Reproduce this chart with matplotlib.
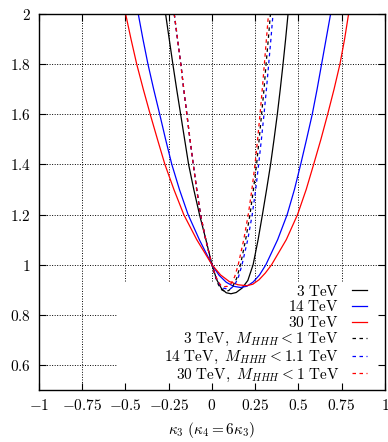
import matplotlib
matplotlib.use("Agg")
import matplotlib.pyplot as plt

plt.rcParams['mathtext.fontset'] = 'cm'
plt.rcParams['font.family'] = ['DejaVu Serif']

# ---- data ----
x_3 = [-0.268, -0.247, -0.226, -0.204, -0.181, -0.158, -0.135, -0.105, -0.072, -0.035, 0.0,
       0.0275, 0.055, 0.0825, 0.11, 0.14, 0.175, 0.2075, 0.238,
       0.267, 0.292, 0.316, 0.339, 0.359, 0.378, 0.395, 0.411, 0.426, 0.44]
y_3 = [2.0, 1.9, 1.8, 1.7, 1.6, 1.5, 1.4, 1.3, 1.2, 1.1, 1.0,
       0.94, 0.905, 0.888, 0.884, 0.889, 0.907, 0.937, 1.0,
       1.1, 1.2, 1.3, 1.4, 1.5, 1.6, 1.7, 1.8, 1.9, 2.0]

x_14 = [-0.426, -0.399, -0.37, -0.337, -0.302, -0.268, -0.232, -0.188, -0.138, -0.073, 0.0,
        0.041, 0.0825, 0.124, 0.165, 0.202, 0.2385, 0.275, 0.312,
        0.38, 0.435, 0.477, 0.513, 0.547, 0.58, 0.608, 0.634, 0.66, 0.686]
y_14 = [2.0, 1.9, 1.8, 1.7, 1.6, 1.5, 1.4, 1.3, 1.2, 1.1, 1.0,
        0.958, 0.93, 0.914, 0.909, 0.914, 0.931, 0.959, 1.0,
        1.1, 1.2, 1.3, 1.4, 1.5, 1.6, 1.7, 1.8, 1.9, 2.0]

x_30 = [-0.499, -0.468, -0.435, -0.397, -0.357, -0.315, -0.272, -0.22, -0.163, -0.088, 0.0,
        0.05, 0.1, 0.15, 0.2, 0.236, 0.2725, 0.309, 0.345,
        0.43, 0.495, 0.545, 0.588, 0.63, 0.669, 0.706, 0.74, 0.767, 0.79]
y_30 = [2.0, 1.9, 1.8, 1.7, 1.6, 1.5, 1.4, 1.3, 1.2, 1.1, 1.0,
        0.959, 0.933, 0.92, 0.916, 0.922, 0.94, 0.967, 1.0,
        1.1, 1.2, 1.3, 1.4, 1.5, 1.6, 1.7, 1.8, 1.9, 2.0]

x_3c = [-0.218, -0.199, -0.18, -0.163, -0.145, -0.127, -0.108, -0.088, -0.066, -0.036, 0.0,
        0.019, 0.0375, 0.056, 0.075, 0.0975, 0.12, 0.1425, 0.165,
        0.195, 0.22, 0.24, 0.258, 0.273, 0.287, 0.301, 0.313, 0.326, 0.338]
y_3c = [2.0, 1.9, 1.8, 1.7, 1.6, 1.5, 1.4, 1.3, 1.2, 1.1, 1.0,
        0.954, 0.92, 0.9, 0.893, 0.897, 0.913, 0.945, 1.0,
        1.1, 1.2, 1.3, 1.4, 1.5, 1.6, 1.7, 1.8, 1.9, 2.0]

x_14c = [-0.218, -0.199, -0.18, -0.163, -0.145, -0.127, -0.108, -0.088, -0.066, -0.036, 0.0,
         0.0225, 0.045, 0.0675, 0.09, 0.111, 0.132, 0.153, 0.174,
         0.207, 0.233, 0.253, 0.27, 0.286, 0.301, 0.315, 0.328, 0.341, 0.353]
y_14c = [2.0, 1.9, 1.8, 1.7, 1.6, 1.5, 1.4, 1.3, 1.2, 1.1, 1.0,
         0.95, 0.92, 0.906, 0.903, 0.906, 0.92, 0.95, 1.0,
         1.1, 1.2, 1.3, 1.4, 1.5, 1.6, 1.7, 1.8, 1.9, 2.0]

x_30c = [-0.218, -0.199, -0.18, -0.163, -0.145, -0.127, -0.108, -0.088, -0.066, -0.036, 0.0,
         0.0175, 0.035, 0.0525, 0.07, 0.0905, 0.111, 0.1315, 0.152,
         0.184, 0.21, 0.231, 0.249, 0.264, 0.278, 0.291, 0.303, 0.315, 0.327]
y_30c = [2.0, 1.9, 1.8, 1.7, 1.6, 1.5, 1.4, 1.3, 1.2, 1.1, 1.0,
         0.961, 0.933, 0.917, 0.912, 0.914, 0.925, 0.952, 1.0,
         1.1, 1.2, 1.3, 1.4, 1.5, 1.6, 1.7, 1.8, 1.9, 2.0]

labels = [r'$3\ \mathrm{TeV}$', r'$14\ \mathrm{TeV}$', r'$30\ \mathrm{TeV}$',
          r'$3\ \mathrm{TeV},\ M_{HHH} < 1\ \mathrm{TeV}$',
          r'$14\ \mathrm{TeV},\ M_{HHH} < 1.1\ \mathrm{TeV}$',
          r'$30\ \mathrm{TeV},\ M_{HHH} < 1\ \mathrm{TeV}$']

x_ticks = [-1, -0.75, -0.5, -0.25, 0, 0.25, 0.5, 0.75, 1]
x_ticklabels = [r'$-1$', r'$-0.75$', r'$-0.5$', r'$-0.25$', r'$0$', r'$0.25$', r'$0.5$', r'$0.75$', r'$1$']
y_ticks = [0.6, 0.8, 1.0, 1.2, 1.4, 1.6, 1.8, 2.0]
y_ticklabels = [r'$0.6$', r'$0.8$', r'$1$', r'$1.2$', r'$1.4$', r'$1.6$', r'$1.8$', r'$2$']
x_label = r'$\kappa_3\ (\kappa_4 = 6\kappa_3)$'

# ---- figure ----
fig = plt.figure(figsize=(3.88, 4.42), dpi=100)
ax = fig.add_axes([0.1005, 0.1176, 0.8915, 0.8507])
ax.set_xlim(-1, 1)
ax.set_ylim(0.5, 2)

# grid (masked under the key area, like gnuplot's opaque key)
key_x = -0.55
key_y = 0.935
gkw = dict(color='black', lw=0.7, ls=(0, (1, 1.6)), zorder=0.5)
for yv in y_ticks[:-1]:
    if yv < key_y:
        ax.axhline(yv, 0, (key_x + 1) / 2, **gkw)
    else:
        ax.axhline(yv, 0, 1, **gkw)
for xv in x_ticks[1:-1]:
    if xv > key_x:
        ax.axvline(xv, (key_y - 0.5) / 1.5, 1, **gkw)
    else:
        ax.axvline(xv, 0, 1, **gkw)

lw = 0.9
dash = (0, (2.8, 2.8))
ax.plot(x_3, y_3, color='black', lw=lw, label=labels[0])
ax.plot(x_14, y_14, color='#0000ff', lw=lw, label=labels[1])
ax.plot(x_30, y_30, color='#ff0000', lw=lw, label=labels[2])
ax.plot(x_3c, y_3c, color='black', lw=lw, ls=dash, label=labels[3])
ax.plot(x_14c, y_14c, color='#0000ff', lw=lw, ls=dash, label=labels[4])
ax.plot(x_30c, y_30c, color='#ff0000', lw=lw, ls=dash, label=labels[5])

ax.set_xticks(x_ticks)
ax.set_xticklabels(x_ticklabels)
ax.set_yticks(y_ticks)
ax.set_yticklabels(y_ticklabels)
ax.tick_params(direction='in', top=True, right=True, length=5, width=0.8,
               labelsize=11, pad=6)
for s in ax.spines.values():
    s.set_linewidth(1.0)

ax.set_xlabel(x_label, fontsize=11, labelpad=5)

ax.legend(loc='lower right', frameon=False, markerfirst=False, fontsize=11,
          handlelength=1.0, handletextpad=0.85, labelspacing=0.05,
          borderaxespad=0.0, bbox_to_anchor=(0.966, 0.0))

fig.savefig('out.png', dpi=100)
